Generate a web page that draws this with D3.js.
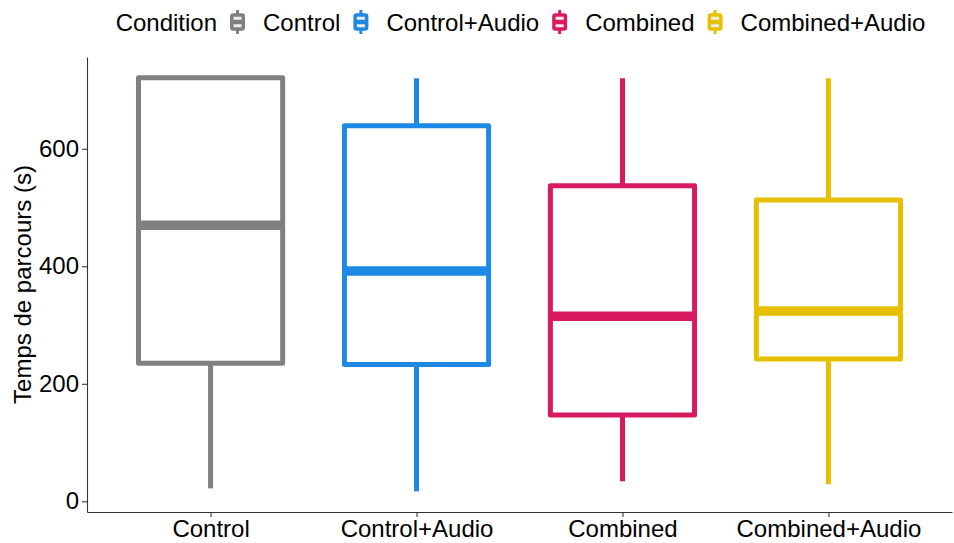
<!DOCTYPE html>
<html lang="en">
  <head>
    <meta charset="UTF-8" />
    <title>Temps de parcours</title>
    <script src="https://cdn.jsdelivr.net/npm/d3@7"></script>
    <style>
      body { margin: 0; background: #fff; }
      text { font-family: "Liberation Sans", Arial, sans-serif; }
    </style>
  </head>
  <body>
    <svg id="container" width="954" height="543"></svg>
    <script>
      // data
      const conditions = ["Control", "Control+Audio", "Combined", "Combined+Audio"];
      const colors = ["#808080", "#1E88E5", "#D81B60", "#E6C000"];
      const whiskerLow = [22, 17, 34, 29];
      const q1 = [235, 233, 147, 242];
      const medians = [470, 392, 315, 324];
      const q3 = [721, 639, 537, 513];
      const whiskerHigh = [721, 720, 720, 720];
      const yTicks = [0, 200, 400, 600];

      const svg = d3.select("#container");
      const plotLeft = 87, plotRight = 952, plotTop = 57, plotBottom = 512;
      const fontSize = 24;

      // ggplot style 5% expansion
      let lo = d3.min(whiskerLow), hi = d3.max(whiskerHigh);
      let pad = (hi - lo) * 0.05;
      let y = d3.scaleLinear().domain([lo - pad, hi + pad]).range([plotBottom, plotTop]);

      // discrete axis with 0.6 expansion
      let x = d3.scaleLinear().domain([0.4, conditions.length + 0.6]).range([plotLeft, plotRight]);
      let boxW = (x(1) - x(0)) * 0.7;

      let g = svg.append("g");
      conditions.forEach((c, i) => {
        let cx = x(i + 1);
        let col = colors[i];
        // whiskers
        g.append("line").attr("x1", cx).attr("x2", cx)
          .attr("y1", y(q3[i])).attr("y2", y(whiskerHigh[i]))
          .attr("stroke", col).attr("stroke-width", 5);
        g.append("line").attr("x1", cx).attr("x2", cx)
          .attr("y1", y(q1[i])).attr("y2", y(whiskerLow[i]))
          .attr("stroke", col).attr("stroke-width", 5);
        // box
        g.append("rect")
          .attr("x", cx - boxW / 2).attr("width", boxW)
          .attr("y", y(q3[i])).attr("height", y(q1[i]) - y(q3[i]))
          .attr("fill", "white").attr("stroke", col)
          .attr("stroke-width", 5).attr("stroke-linejoin", "round");
        // median
        g.append("line")
          .attr("x1", cx - boxW / 2).attr("x2", cx + boxW / 2)
          .attr("y1", y(medians[i])).attr("y2", y(medians[i]))
          .attr("stroke", col).attr("stroke-width", 9.5);
      });

      // axes
      let yAxis = svg.append("g").attr("transform", `translate(${plotLeft},0)`)
        .call(d3.axisLeft(y).tickValues(yTicks).tickSize(5).tickSizeOuter(0).tickPadding(3));
      let xAxis = svg.append("g").attr("transform", `translate(0,${plotBottom})`)
        .call(d3.axisBottom(x).tickValues(d3.range(1, conditions.length + 1))
          .tickFormat((d) => conditions[d - 1]).tickSize(5).tickSizeOuter(0).tickPadding(3));
      [yAxis, xAxis].forEach((a) => {
        a.select(".domain").attr("stroke", "#333").attr("stroke-width", 1.1);
        a.selectAll(".tick line").attr("stroke", "#333").attr("stroke-width", 1.1);
        a.selectAll(".tick text").attr("fill", "#000").attr("font-size", fontSize)
          .style("font-family", "'Liberation Sans', Arial, sans-serif");
      });

      svg.append("text")
        .attr("transform", `translate(31,${(plotTop + plotBottom) / 2}) rotate(-90)`)
        .attr("text-anchor", "middle")
        .attr("font-size", fontSize)
        .text("Temps de parcours (s)");

      // legend on top
      let leg = svg.append("g");
      let title = leg.append("text").attr("x", 0).attr("y", 31)
        .attr("font-size", fontSize).text("Condition");
      let xpos = title.node().getComputedTextLength() + 13;
      conditions.forEach((c, i) => {
        let k = leg.append("g").attr("transform", `translate(${xpos},0)`);
        k.append("line").attr("x1", 7.5).attr("x2", 7.5).attr("y1", 10).attr("y2", 34)
          .attr("stroke", colors[i]).attr("stroke-width", 3);
        k.append("rect").attr("x", 1.75).attr("y", 15).attr("width", 11.5).attr("height", 14)
          .attr("rx", 1.5).attr("fill", "#eeeeee").attr("stroke", colors[i]).attr("stroke-width", 3.5);
        k.append("line").attr("x1", 3).attr("x2", 12).attr("y1", 22).attr("y2", 22)
          .attr("stroke", colors[i]).attr("stroke-width", 4.5);
        xpos += 15 + 18;
        let t = leg.append("text").attr("x", xpos).attr("y", 31)
          .attr("font-size", fontSize).text(c);
        xpos += t.node().getComputedTextLength() + 13;
      });
      let legW = xpos - 13;
      leg.attr("transform", `translate(${(plotLeft + plotRight) / 2 - legW / 2 + 1},0)`);
    </script>
  </body>
</html>
